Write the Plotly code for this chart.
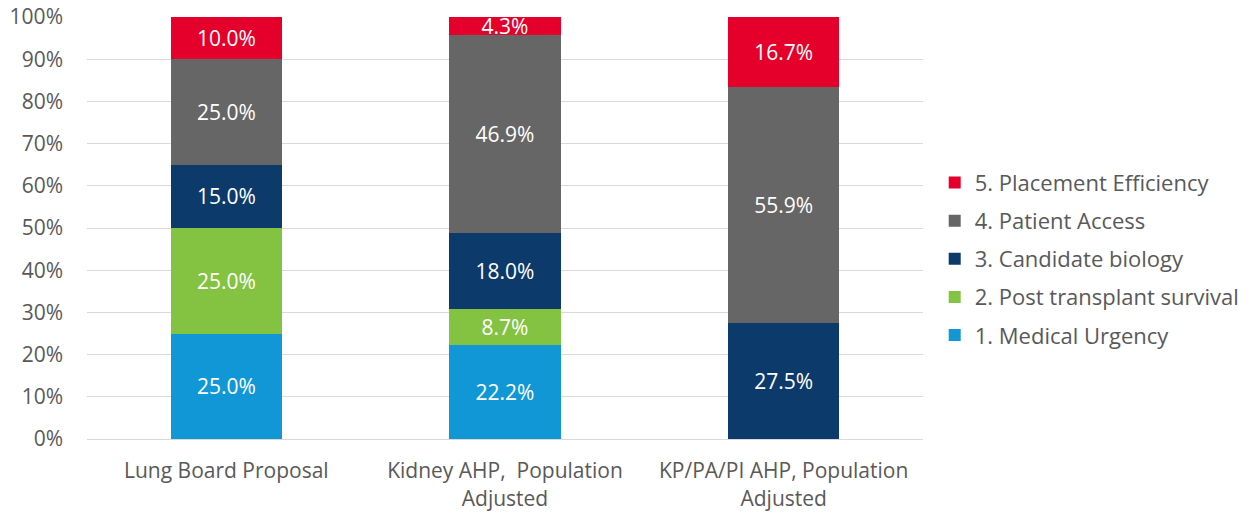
import plotly.graph_objects as go

categories = ["Lung Board Proposal", "Kidney AHP,  Population<br>Adjusted", "KP/PA/PI AHP, Population<br>Adjusted"]
series_names = ["1. Medical Urgency", "2. Post transplant survival", "3. Candidate biology",
                "4. Patient Access", "5. Placement Efficiency"]
medical_urgency = [0.25, 0.222, None]
post_transplant = [0.25, 0.087, None]
candidate_biology = [0.15, 0.18, 0.275]
patient_access = [0.25, 0.469, 0.559]
placement_efficiency = [0.10, 0.043, 0.167]
colors = ["#1197D6", "#84C341", "#0C3A6A", "#666666", "#E4002B"]
y_ticks = [i / 10 for i in range(11)]
y_tick_labels = [f"{i*10}%" for i in range(11)]

series_values = [medical_urgency, post_transplant, candidate_biology, patient_access, placement_efficiency]

fig = go.Figure()
n = len(series_names)
for i, (name, vals, col) in enumerate(zip(series_names, series_values, colors)):
    fig.add_trace(go.Bar(
        x=categories, y=vals, name=name, marker_color=col,
        marker_line_width=0,
        text=[f"{v*100:.1f}%" if v else "" for v in vals],
        textposition="inside", insidetextanchor="middle",
        textfont=dict(color="white", size=21, family="Open Sans"),
        legendgroup=str(i), legendrank=n - i,
    ))

fig.update_layout(
    barmode="stack", bargap=0.6,
    width=1249, height=517,
    margin=dict(l=87, r=326, t=17, b=78, autoexpand=False),
    paper_bgcolor="white", plot_bgcolor="white",
    font=dict(family="Open Sans", size=21, color="#595959"),
    uniformtext=dict(minsize=21, mode="show"),
    legend=dict(x=1.014, y=0.427, xanchor="left", yanchor="middle",
                traceorder="grouped", tracegroupgap=6.5,
                font=dict(size=22, color="#595959")),
    showlegend=True,
)
fig.update_yaxes(range=[0, 1], tickvals=y_ticks, ticktext=y_tick_labels,
                 showgrid=True, gridcolor="#D9D9D9", gridwidth=1,
                 zeroline=False, ticklabelstandoff=23, automargin=False,
                 ticklabeloverflow="allow")
fig.update_xaxes(showline=True, linecolor="#D9D9D9", linewidth=1,
                 ticklabelstandoff=13, automargin=False,
                 ticklabeloverflow="allow")

fig.write_html("out.html", config={"displayModeBar": False},
               post_script="document.body.style.margin='0';")
